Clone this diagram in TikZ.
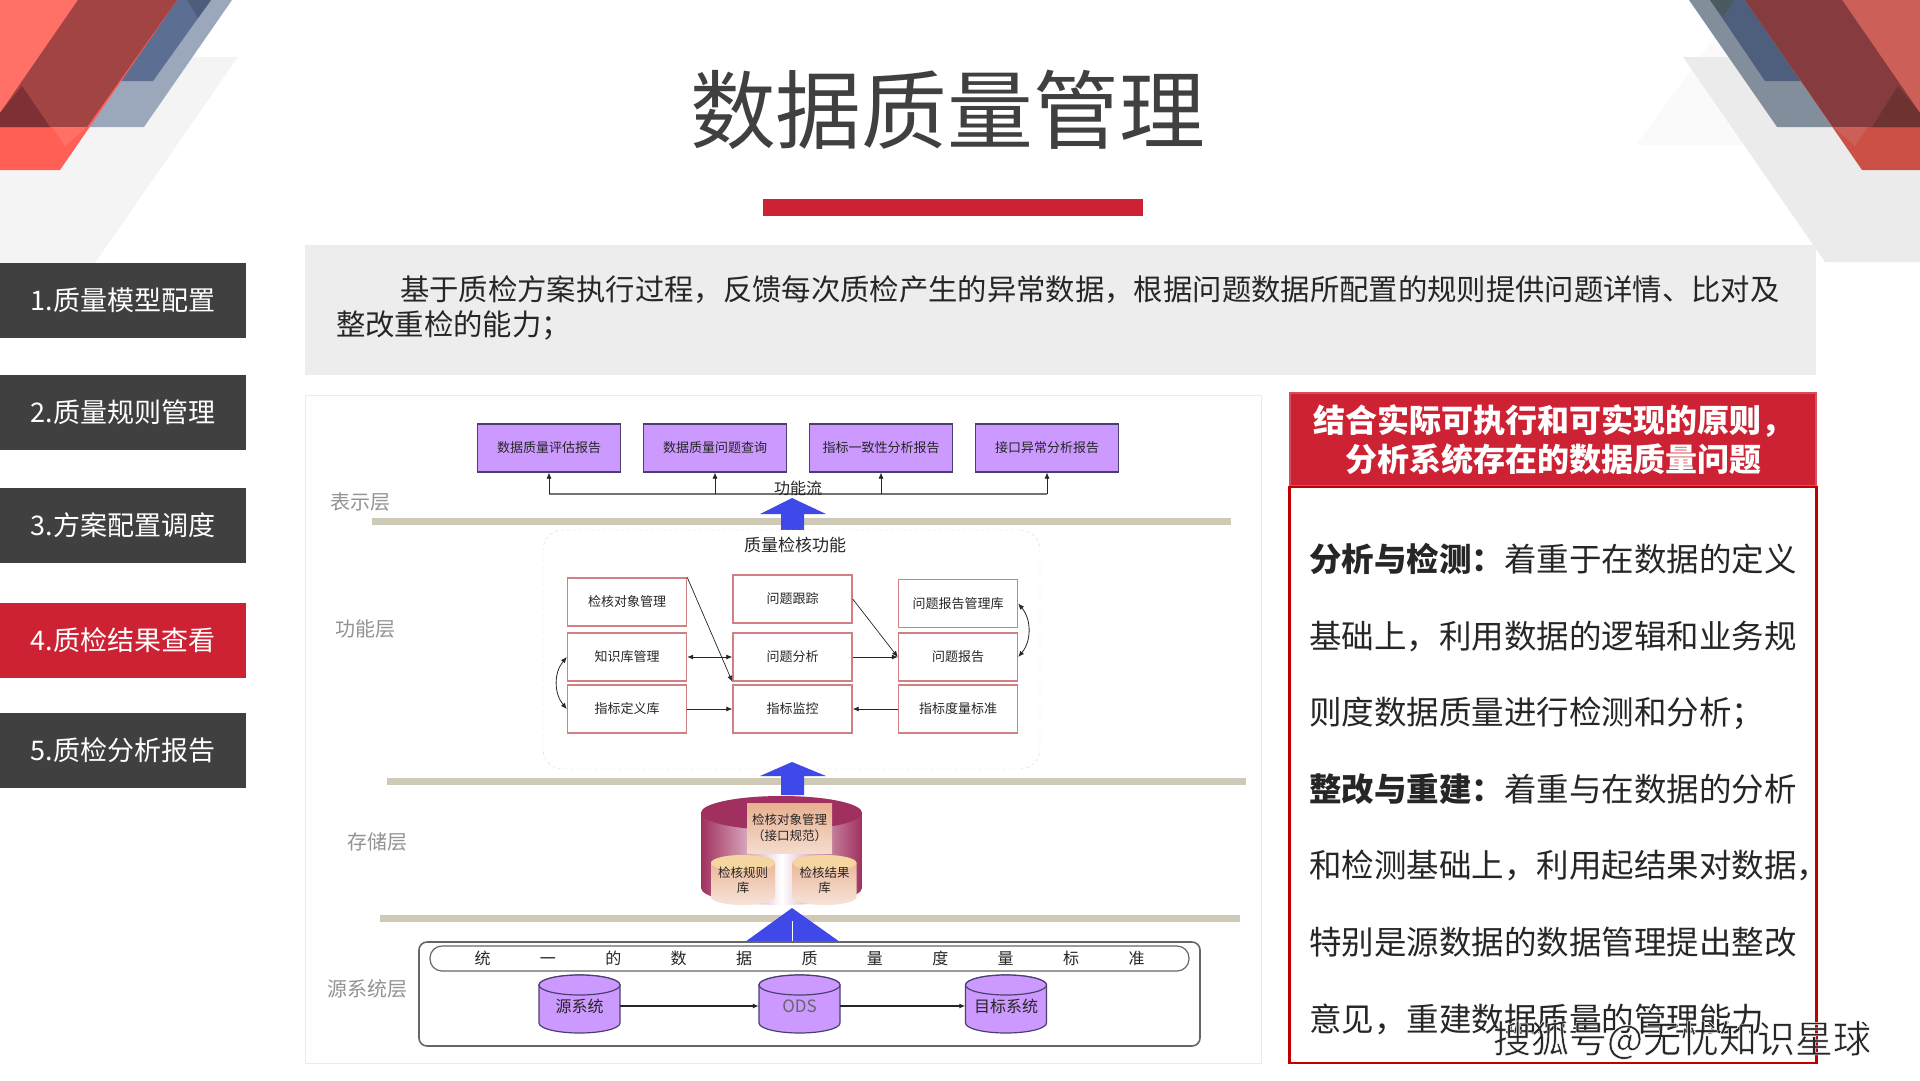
\documentclass[tikz,border=0pt]{standalone}
\usepackage{fontspec}
\setmainfont{Noto Sans CJK SC}
\usetikzlibrary{arrows.meta}
\definecolor{sidedark}{HTML}{404040}
\definecolor{mainred}{HTML}{CC2233}
\definecolor{boxred}{HTML}{C00000}
\definecolor{introgray}{HTML}{EDEDED}
\definecolor{textdark}{HTML}{262626}
\definecolor{purplebox}{HTML}{CC99FF}
\definecolor{purpleline}{HTML}{4B3F72}
\definecolor{paleline}{HTML}{D08080}
\definecolor{layerbar}{HTML}{CFC9B8}
\definecolor{flowblue}{HTML}{3F48E8}
\definecolor{rose}{HTML}{A0305F}
\definecolor{peach}{HTML}{E8B090}
\definecolor{peachcap}{HTML}{F5D5A0}
\definecolor{lbluea}{HTML}{9BA8BC}
\definecolor{lblueb}{HTML}{5C6E92}
\definecolor{lbluec}{HTML}{4E5D7C}
\definecolor{lreda}{HTML}{FF5F54}
\definecolor{lredb}{HTML}{FF7066}
\definecolor{lredc}{HTML}{A24444}
\definecolor{lredd}{HTML}{7E3034}
\definecolor{rgraya}{HTML}{FAFAFA}
\definecolor{rgrayb}{HTML}{EBEBEB}
\definecolor{rbluea}{HTML}{828E9C}
\definecolor{rblueb}{HTML}{4E5F7E}
\definecolor{rbluec}{HTML}{4A5A60}
\definecolor{rreda}{HTML}{CC5045}
\definecolor{rredb}{HTML}{CC5F58}
\definecolor{rredc}{HTML}{863C3F}
\definecolor{rredd}{HTML}{6E3330}
\newcommand{\fs}[1]{\fontsize{#1}{#1}\selectfont}
\newcommand{\drumbody}[6]{\path[#1] ({#2-#5},{#3+#6}) arc (180:360:#5 and #6) -- ({#2+#5},{#4-#6}) arc (0:180:#5 and #6) -- cycle;}
\tikzset{
  sidebtn/.style={fill=sidedark,text=white,minimum width=246,minimum height=75,inner sep=0,font=\fs{27}},
  reportbox/.style={draw=purpleline,fill=purplebox,line width=1.2,minimum width=143,minimum height=48,inner sep=0,font=\fs{13},text=textdark},
  funcbox/.style={draw=paleline,fill=white,line width=1.4,minimum width=119,minimum height=48,inner sep=0,font=\fs{13},text=textdark},
  layerlabel/.style={text=gray!85,inner sep=0,font=\fs{20}},
  layerbarline/.style={draw=layerbar,line width=7},
  thinarrow/.style={draw=textdark,line width=0.7,-{Latex[length=6,width=5]}},
  bothway/.style={draw=textdark,line width=0.8,{Latex[length=6,width=5]}-{Latex[length=6,width=5]}},
  srcdrum/.style={draw=purpleline,fill=purplebox,line width=1.2},
  srclabel/.style={minimum width=81,minimum height=58,inner sep=0,font=\fs{16},text=textdark},
  smalldrum/.style={top color=peach,bottom color=peach!35},
  smalllabel/.style={minimum width=64,minimum height=50,inner sep=0,font=\fontsize{12.5}{15.5}\selectfont,align=center,text=textdark},
}
\begin{document}
\begin{tikzpicture}[x=1pt,y=-1pt]
\useasboundingbox (0,0) rectangle (1920,1080);
% corner shapes
\fill[black!4.5] (0,57) -- (238,57) -- (95,263) -- (0,263) -- cycle;
\fill[lbluea] (0,0) -- (232,0) -- (144,127) -- (0,127) -- cycle;
\fill[lblueb] (0,0) -- (211,0) -- (153,81) -- (0,81) -- cycle;
\fill[lbluec] (187,0) -- (211,0) -- (198,18) -- cycle;
\fill[lreda] (0,0) -- (177,0) -- (60,170) -- (0,170) -- cycle;
\fill[lredb] (0,0) -- (78,0) -- (0,113) -- cycle;
\fill[lredc] (78,0) -- (177,0) -- (87,127) -- (0,127) -- (0,113) -- cycle;
\fill[lredd] (0,113) -- (22,86) -- (50,127) -- (0,127) -- cycle;
\fill[lredb] (52,127) -- (87,127) -- (65,146) -- cycle;
\fill[rgraya] (1636,145) -- (1720,30) -- (1800,145) -- cycle;
\fill[rgrayb] (1683,57) -- (1920,57) -- (1920,262) -- (1825,262) -- cycle;
\fill[rbluea] (1689,0) -- (1920,0) -- (1920,127) -- (1777,127) -- cycle;
\fill[rblueb] (1710,0) -- (1920,0) -- (1920,81) -- (1765,81) -- cycle;
\fill[rbluec] (1710,0) -- (1735,0) -- (1723,17) -- cycle;
\fill[rreda] (1745,0) -- (1920,0) -- (1920,170) -- (1862,170) -- cycle;
\fill[rredb] (1842,0) -- (1920,0) -- (1920,113) -- cycle;
\fill[rredc] (1745,0) -- (1842,0) -- (1920,113) -- (1920,127) -- (1833,127) -- cycle;
\fill[rredd] (1920,113) -- (1898,86) -- (1872,127) -- (1920,127) -- cycle;
\fill[rredb] (1833,127) -- (1868,127) -- (1855,146) -- cycle;
% title
\node (title) at (947.5,110) [text=sidedark,inner sep=0,font=\fs{85.8}] {数据质量管理};
\fill[mainred] (763,199) rectangle (1143,216);
% left menu
\node (menua) at (123,300.5) [sidebtn] {1.质量模型配置};
\node (menub) at (123,412.5) [sidebtn] {2.质量规则管理};
\node (menuc) at (123,525.5) [sidebtn] {3.方案配置调度};
\node (menud) at (123,640.5) [sidebtn,fill=mainred] {4.质检结果查看};
\node (menue) at (123,750.5) [sidebtn] {5.质检分析报告};
% intro
\fill[introgray] (305,245) rectangle (1816,375);
\node (intro) at (336,275.5) [anchor=north west,inner sep=0,align=left,text=textdark,font=\fontsize{29.35}{35}\selectfont]
  {\hspace*{64pt}基于质检方案执行过程，反馈每次质检产生的异常数据，根据问题数据所配置的规则提供问题详情、比对及\\整改重检的能力；};
% diagram panel
\draw[black!8,fill=white] (305,395) rectangle (1261,1063);
\node (lblshow) at (360,502) [layerlabel] {表示层};
\node (lblfunc) at (365,629) [layerlabel] {功能层};
\node (lblstore) at (377,842) [layerlabel] {存储层};
\node (lblsrc) at (367,989) [layerlabel] {源系统层};
\draw[layerbarline] (372,521) -- (1231,521);
\draw[layerbarline] (387,781) -- (1246,781);
\draw[layerbarline] (380,918) -- (1240,918);
\node (rpta) at (549,448) [reportbox] {数据质量评估报告};
\node (rptb) at (715,448) [reportbox] {数据质量问题查询};
\node (rptc) at (881,448) [reportbox] {指标一致性分析报告};
\node (rptd) at (1047,448) [reportbox] {接口异常分析报告};
\coordinate (busa) at (549,494);
\coordinate (busb) at (715,494);
\coordinate (busc) at (881,494);
\coordinate (busd) at (1047,494);
\draw[black!55,line width=1.6] (busa) -- (busd);
\draw[thinarrow] (busa) -- (rpta);
\draw[thinarrow] (busb) -- (rptb);
\draw[thinarrow] (busc) -- (rptc);
\draw[thinarrow] (busd) -- (rptd);
\node (flowlbl) at (798,488) [inner sep=0,text=textdark,font=\fs{16}] {功能流};
\fill[flowblue] (792,498) -- (826,514) -- (804,514) -- (804,531) -- (781,531) -- (781,514) -- (760,514) -- cycle;
% quality functions
\node (qualframe) at (791.5,649.5) [draw=peach!60,dashed,fill=white,rounded corners=20,minimum width=497,minimum height=239,inner sep=0] {};
\node (quallbl) at (795,545) [inner sep=0,text=textdark,font=\fs{17}] {质量检核功能};
\node (fa) at (627,602) [funcbox] {检核对象管理};
\node (fb) at (792.5,599) [funcbox] {问题跟踪};
\node (fc) at (958,603.5) [funcbox] {问题报告管理库};
\node (fd) at (627,657) [funcbox] {知识库管理};
\node (fe) at (792.5,657) [funcbox] {问题分析};
\node (ff) at (958,657) [funcbox] {问题报告};
\node (fg) at (627,709) [funcbox] {指标定义库};
\node (fh) at (792.5,709) [funcbox] {指标监控};
\node (fi) at (958,709) [funcbox] {指标度量标准};
\draw[thinarrow] (fa.north east) -- (fe.south west);
\draw[thinarrow] (fb.east) -- (ff.west);
\draw[bothway] (fd) -- (fe);
\draw[thinarrow] (fe) -- (ff);
\draw[thinarrow] (fg) -- (fh);
\draw[thinarrow] (fi) -- (fh);
\draw[bothway] (fd.west) to[bend right=40] (fg.west);
\draw[bothway] (fc.east) to[bend left=40] (ff.east);
% storage
\drumbody{left color=rose,right color=rose,middle color=white}{781.5}{796}{905}{80.5}{17}
\fill[rose] (781.5,813) ellipse (80.5 and 17);
\fill[flowblue] (792,762) -- (826,776) -- (804,776) -- (804,795) -- (781,795) -- (781,776) -- (760,776) -- cycle;
\node (storetop) at (789.5,828) [top color=peach,bottom color=peach!45,minimum width=85,minimum height=50,inner sep=0,align=center,text=textdark,font=\fontsize{12.5}{16}\selectfont] {检核对象管理\\（接口规范）};
\drumbody{smalldrum}{743}{855}{905}{32}{8}
\fill[peachcap] (743,863) ellipse (32 and 8);
\node (storea) at (743,880) [smalllabel] {检核规则\\库};
\drumbody{smalldrum}{824.5}{855}{905}{32}{8}
\fill[peachcap] (824.5,863) ellipse (32 and 8);
\node (storeb) at (824.5,880) [smalllabel] {检核结果\\库};
\fill[flowblue] (792,908) -- (840,942) -- (745,942) -- cycle;
\draw[white,line width=0.8] (792,921) -- (792,942);
% source systems
\node (srcframe) at (809.5,994) [draw=black!60,line width=1.6,fill=white,rounded corners=8,minimum width=781,minimum height=104,inner sep=0] {};
\node (stdbar) at (809.5,958.5) [draw=black!60,line width=1.2,fill=white,rounded corners=12,minimum width=759,minimum height=25,inner sep=0,text=textdark,font=\fs{16}]
  {\makebox[670pt][s]{统\hfill 一\hfill 的\hfill 数\hfill 据\hfill 质\hfill 量\hfill 度\hfill 量\hfill 标\hfill 准}};
\drumbody{srcdrum}{579.5}{975}{1033}{40.5}{10}
\draw[srcdrum] (579.5,985) ellipse (40.5 and 10);
\drumbody{srcdrum}{799.5}{975}{1033}{40.5}{10}
\draw[srcdrum] (799.5,985) ellipse (40.5 and 10);
\drumbody{srcdrum}{1006}{975}{1033}{40.5}{10}
\draw[srcdrum] (1006,985) ellipse (40.5 and 10);
\node (srca) at (579.5,1006) [srclabel] {源系统};
\node (srcb) at (799.5,1006) [srclabel,text=black!60,font=\fs{17}] {ODS};
\node (srcc) at (1006,1006) [srclabel] {目标系统};
\draw[thinarrow,line width=1.8] (srca) -- (srcb);
\draw[thinarrow,line width=1.8] (srcb) -- (srcc);
% right panel
\node (rhead) at (1553,439.5) [fill=mainred,draw=mainred!80!white,line width=2,minimum width=526,minimum height=93,inner sep=0,align=center,text=white,font=\bfseries\fontsize{32}{39}\selectfont] {结合实际可执行和可实现的原则，\\分析系统存在的数据质量问题};
\node (rbody) at (1553,775) [draw=boxred,line width=2.5,minimum width=527,minimum height=576,inner sep=0] {};
\node (rtext) at (1309,543) [anchor=north west,inner sep=0,align=left,text=textdark,font=\fontsize{32.5}{76.6}\selectfont]
  {\textbf{分析与检测：}着重于在数据的定义\\基础上，利用数据的逻辑和业务规\\则度数据质量进行检测和分析；\\\textbf{整改与重建：}着重与在数据的分析\\和检测基础上，利用起结果对数据，\\特别是源数据的数据管理提出整改\\意见，重建数据质量的管理能力};
\node (wmark) at (1682,1040) [inner sep=0,text=black!85,font=\fs{38}] {\special{pdf:code q 2 Tr 1 1 1 RG 0.5 w}搜狐号@无忧知识星球\special{pdf:code Q}};
\end{tikzpicture}
\end{document}
